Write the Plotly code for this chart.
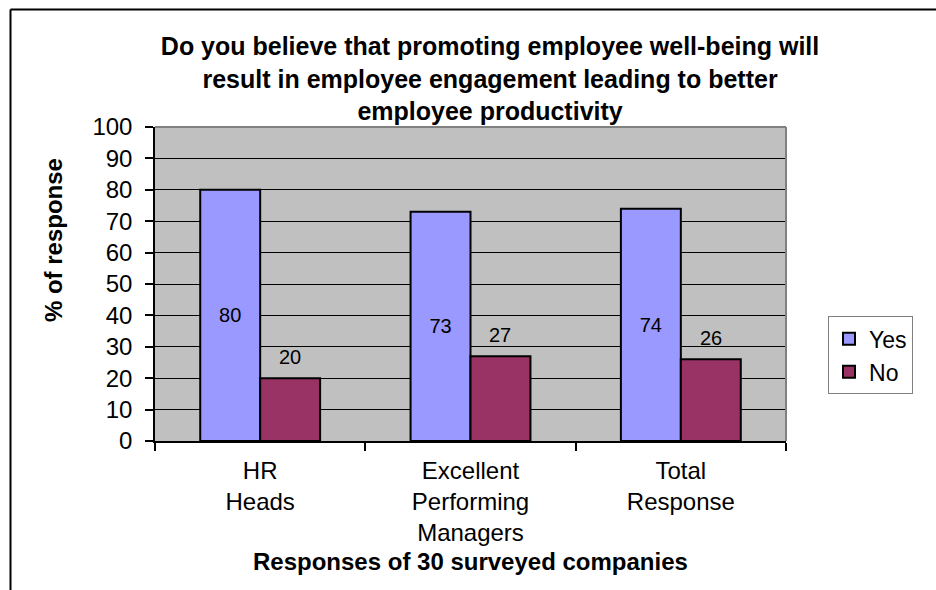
import plotly.graph_objects as go

# Survey results (% of response)
categories = ["HR<br>Heads", "Excellent<br>Performing<br>Managers", "Total<br>Response"]
yes_values = [80, 73, 74]
no_values = [20, 27, 26]
y_ticks = list(range(0, 101, 10))

title_text = ("Do you believe that promoting employee well-being will<br>"
              "result in employee engagement leading to better<br>"
              "employee productivity")

FONT = "Liberation Sans, Arial, sans-serif"
BAR_GAP = 0.43

fig = go.Figure()
fig.add_trace(go.Bar(
    name="Yes", x=categories, y=yes_values,
    marker=dict(color="#9999FF", line=dict(color="black", width=2)),
    text=[str(v) for v in yes_values], textposition="inside",
    insidetextanchor="middle", textangle=0,
    textfont=dict(family=FONT, size=20, color="black"),
))
fig.add_trace(go.Bar(
    name="No", x=categories, y=no_values,
    marker=dict(color="#993366", line=dict(color="black", width=2)),
))

# value labels floating above the "No" bars
half_bar = (1 - BAR_GAP) / 4
for i, v in enumerate(no_values):
    fig.add_annotation(
        x=i + half_bar, y=v, xref="x", yref="y", text=str(v),
        showarrow=False, yshift=21, yanchor="middle",
        font=dict(family=FONT, size=20, color="black"),
    )

# axis titles
fig.add_annotation(
    x=0.5, y=-0.385, xref="paper", yref="paper",
    text="<b>Responses of 30 surveyed companies</b>", showarrow=False,
    xanchor="center", yanchor="middle",
    font=dict(family=FONT, size=24, color="black"),
)
fig.add_annotation(
    x=-0.1616, y=0.64, xref="paper", yref="paper",
    text="<b>% of response</b>", showarrow=False, textangle=-90,
    xanchor="center", yanchor="middle",
    font=dict(family=FONT, size=24, color="black"),
)

# outer frame (top and left edges) and grey plot-area edge (top and right)
fig.add_shape(type="line", xref="paper", yref="paper",
              x0=-0.229, x1=1.24, y0=1.3742, y1=1.3742,
              line=dict(color="black", width=2))
fig.add_shape(type="line", xref="paper", yref="paper",
              x0=-0.229, x1=-0.229, y0=-0.48, y1=1.3742,
              line=dict(color="black", width=2))
fig.add_shape(type="line", xref="paper", yref="paper",
              x0=0, x1=1, y0=1, y1=1, layer="above",
              line=dict(color="#808080", width=2))
fig.add_shape(type="line", xref="paper", yref="paper",
              x0=1, x1=1, y0=0, y1=1, layer="above",
              line=dict(color="#808080", width=2))

fig.update_layout(
    width=936, height=590,
    margin=dict(l=155, r=150, t=127, b=149),
    paper_bgcolor="white", plot_bgcolor="#C0C0C0",
    barmode="group", bargap=BAR_GAP, bargroupgap=0,
    font=dict(family=FONT, color="black"),
    title=dict(
        text="<b>" + title_text + "</b>",
        xref="paper", x=0.531, xanchor="center",
        yref="container", y=1 - 55 / 590, yanchor="middle",
        font=dict(family=FONT, size=25, color="black"),
    ),
    showlegend=True,
    legend=dict(
        x=1.0666, y=0.397, xanchor="left", yanchor="top",
        bgcolor="white", bordercolor="#808080", borderwidth=1,
        font=dict(family=FONT, size=23, color="black"),
        itemwidth=30, tracegroupgap=0,
    ),
    xaxis=dict(
        showline=True, linecolor="black", linewidth=1.5,
        ticks="outside", tickson="boundaries", ticklen=8,
        tickcolor="black", tickwidth=1.5,
        tickfont=dict(family=FONT, size=24, color="black"),
        ticklabelstandoff=7,
        showgrid=False,
    ),
    yaxis=dict(
        range=[0, 100], tickvals=y_ticks,
        showline=True, linecolor="black", linewidth=1.5,
        ticks="outside", ticklen=8, tickcolor="black", tickwidth=1.5,
        tickfont=dict(family=FONT, size=24, color="black"),
        ticklabelstandoff=8,
        showgrid=True, gridcolor="black", gridwidth=1,
        zeroline=False,
    ),
)

fig.write_html("out.html")
